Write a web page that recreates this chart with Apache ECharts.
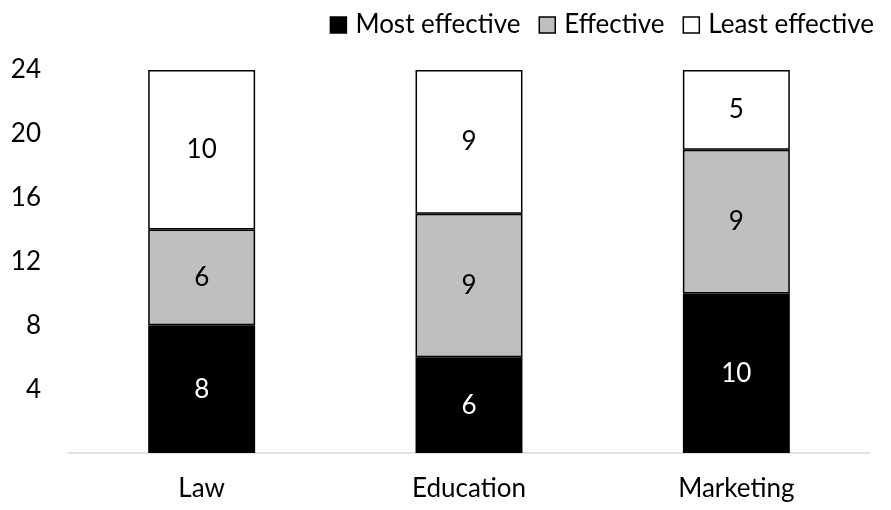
<!DOCTYPE html>
<html><head><meta charset="utf-8">
<script src="https://cdn.jsdelivr.net/npm/echarts@6/dist/echarts.min.js"></script>
<style>html,body{margin:0;padding:0;background:#fff}#c{width:891px;height:510px}</style>
</head><body><div id="c"></div>
<script>
var categories = ['Law', 'Education', 'Marketing'];
var mostEffective = [8, 6, 10];
var effective = [6, 9, 9];
var leastEffective = [10, 9, 5];
var seriesNames = ['Most effective', 'Effective', 'Least effective'];

var FONT = 'Lato';
var FS = 26;
function mk(name, data, color, labelColor) {
  return {
    name: name, type: 'bar', stack: 'total', data: data, barWidth: '40%',
    itemStyle: { color: color, borderColor: '#000', borderWidth: 1.5 },
    label: { show: true, position: 'inside', color: labelColor, fontSize: FS, fontFamily: FONT },
    emphasis: { disabled: true }
  };
}
var chart = echarts.init(document.getElementById('c'));
chart.setOption({
  animation: false,
  backgroundColor: '#fff',
  legend: {
    right: 12, top: 7, itemWidth: 16, itemHeight: 16, itemGap: 18, icon: 'rect',
    textStyle: { fontSize: FS, fontFamily: FONT, color: '#000', padding: [0, 0, 0, 4] },
    data: seriesNames.map(function (n) { return { name: n, itemStyle: { borderColor: '#000', borderWidth: 1.5 } }; })
  },
  grid: { left: 68, right: 21, top: 70, bottom: 57, containLabel: false },
  xAxis: {
    type: 'category', data: categories,
    axisLine: { lineStyle: { color: '#d9d9d9', width: 1.5 } },
    axisTick: { show: false },
    axisLabel: { color: '#000', fontSize: FS, fontFamily: FONT, margin: 23 }
  },
  yAxis: {
    type: 'value', min: 0, max: 24, interval: 4,
    splitLine: { show: false }, axisLine: { show: false }, axisTick: { show: false },
    axisLabel: { color: '#000', fontSize: FS, fontFamily: FONT, margin: 27,
      formatter: function (v) { return v === 0 ? '' : v; } }
  },
  series: [
    mk(seriesNames[0], mostEffective, '#000', '#fff'),
    mk(seriesNames[1], effective, '#bfbfbf', '#000'),
    mk(seriesNames[2], leastEffective, '#fff', '#000')
  ]
});
</script></body></html>
